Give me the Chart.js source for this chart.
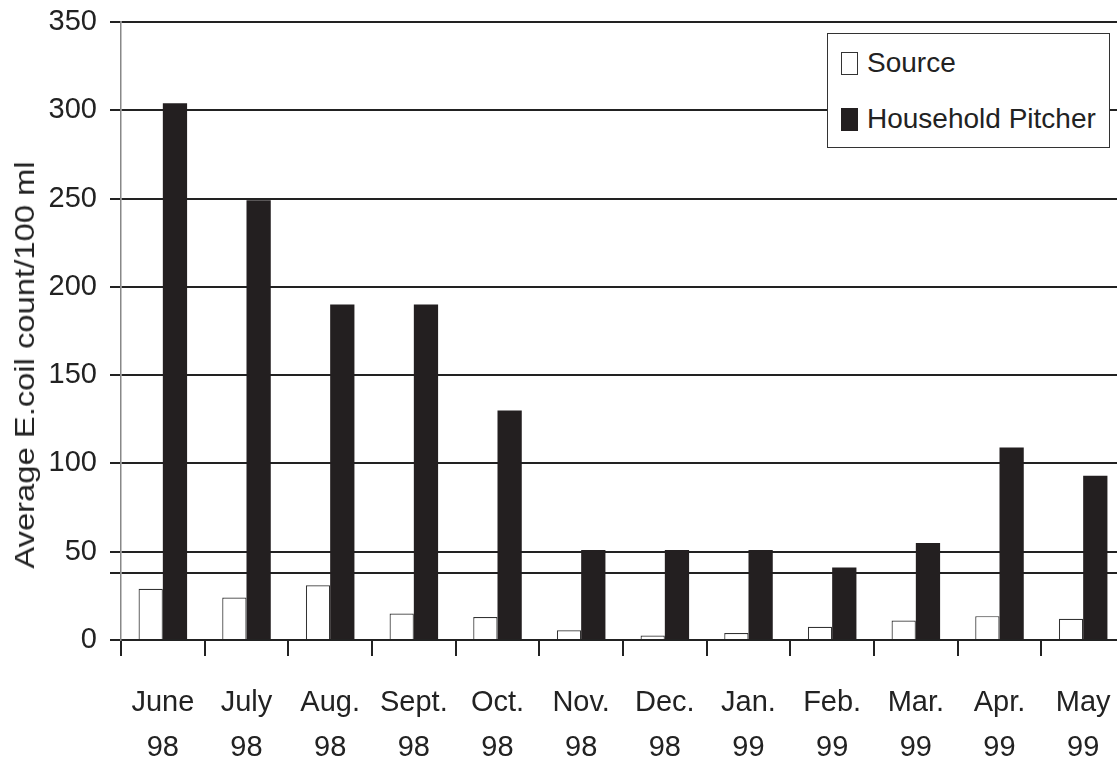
<!DOCTYPE html>
<html>
<head>
<meta charset="utf-8">
<script src="https://cdn.jsdelivr.net/npm/chart.js@4"></script>
<style>
  html, body { margin: 0; padding: 0; background: #fff; overflow: hidden; }
  #wrap { position: relative; width: 1117px; height: 761px; overflow: hidden; }
  #legend {
    position: absolute; left: 827px; top: 33px; width: 281px; height: 113px;
    background: #fff; border: 1.5px solid #333;
    font-family: "Liberation Sans", Arial, Helvetica, sans-serif; font-size: 28px; color: #222;
  }
  .item { position: absolute; left: 13px; display: flex; align-items: center; }
  .swatch { width: 15px; height: 21px; margin-right: 9px; }
  #ytitle {
    position: absolute; left: 25px; top: 365px; white-space: nowrap;
    font-family: "Liberation Sans", Arial, Helvetica, sans-serif; font-size: 28px; color: #222;
    transform: translate(-50%, -50%) rotate(-90deg) scaleX(1.17);
  }
</style>
</head>
<body>
<div id="wrap">
  <canvas id="chart" width="1130" height="761"></canvas>
  <div id="ytitle">Average E.coil count/100 ml</div>
  <div id="legend">
    <div class="item" style="top:13px"><span class="swatch" style="border:1px solid #333;background:#fff"></span>Source</div>
    <div class="item" style="top:69px"><span class="swatch" style="border:1px solid #231f20;background:#231f20"></span>Household Pitcher</div>
  </div>
</div>
<script>
// Data
const months = [['June', '98'], ['July', '98'], ['Aug.', '98'], ['Sept.', '98'], ['Oct.', '98'], ['Nov.', '98'],
                ['Dec.', '98'], ['Jan.', '99'], ['Feb.', '99'], ['Mar.', '99'], ['Apr.', '99'], ['May', '99']];
const sourceCounts = [29, 24, 31, 15, 13, 5.5, 2.5, 4, 7.5, 11, 13.5, 12];
const pitcherCounts = [304, 249, 190, 190, 130, 51, 51, 51, 41, 55, 109, 93];
const yTickValues = [0, 38, 50, 100, 150, 200, 250, 300, 350];
const yTickLabels = ['0', '', '50', '100', '150', '200', '250', '300', '350'];

const font = '"Liberation Sans", Arial, Helvetica, sans-serif';
const ink = '#222';

const ctx = document.getElementById('chart');
new Chart(ctx, {
    type: 'bar',
    data: {
        labels: months,
        datasets: [{
            label: 'Source',
            data: sourceCounts,
            backgroundColor: '#fff',
            borderColor: '#333',
            borderWidth: 1.2,
            categoryPercentage: 0.58,
            barPercentage: 1.0
        }, {
            label: 'Household Pitcher',
            data: pitcherCounts,
            backgroundColor: '#231f20',
            borderWidth: 0,
            categoryPercentage: 0.58,
            barPercentage: 1.0
        }]
    },
    options: {
        responsive: false,
        devicePixelRatio: 1,
        animation: false,
        layout: { padding: { top: 22, right: 5, left: 0, bottom: 0 } },
        plugins: {
            legend: { display: false },
            tooltip: { enabled: false }
        },
        scales: {
            x: {
                afterFit: (scale) => {
                    scale.height = 121;
                    scale.paddingLeft = 0;
                    scale.paddingRight = 0;
                },
                grid: {
                    display: true,
                    drawOnChartArea: false,
                    offset: true,
                    tickLength: 16,
                    color: ink,
                    lineWidth: 2
                },
                border: { color: ink, width: 2 },
                ticks: {
                    color: ink,
                    font: { family: font, size: 29, lineHeight: 1.55 },
                    padding: 25,
                    maxRotation: 0,
                    autoSkip: false
                }
            },
            y: {
                min: 0,
                max: 350,
                afterFit: (scale) => {
                    scale.width = 121;
                    scale.paddingTop = 0;
                    scale.paddingBottom = 0;
                },
                afterBuildTicks: (scale) => {
                    scale.ticks = yTickValues.map(v => ({ value: v }));
                },
                grid: { color: ink, lineWidth: 2, tickLength: 11 },
                border: { color: '#888', width: 1.5 },
                ticks: {
                    color: ink,
                    font: { family: font, size: 29 },
                    padding: 13,
                    callback: (value) => yTickLabels[yTickValues.indexOf(value)]
                }
            }
        }
    }
});
</script>
</body>
</html>
